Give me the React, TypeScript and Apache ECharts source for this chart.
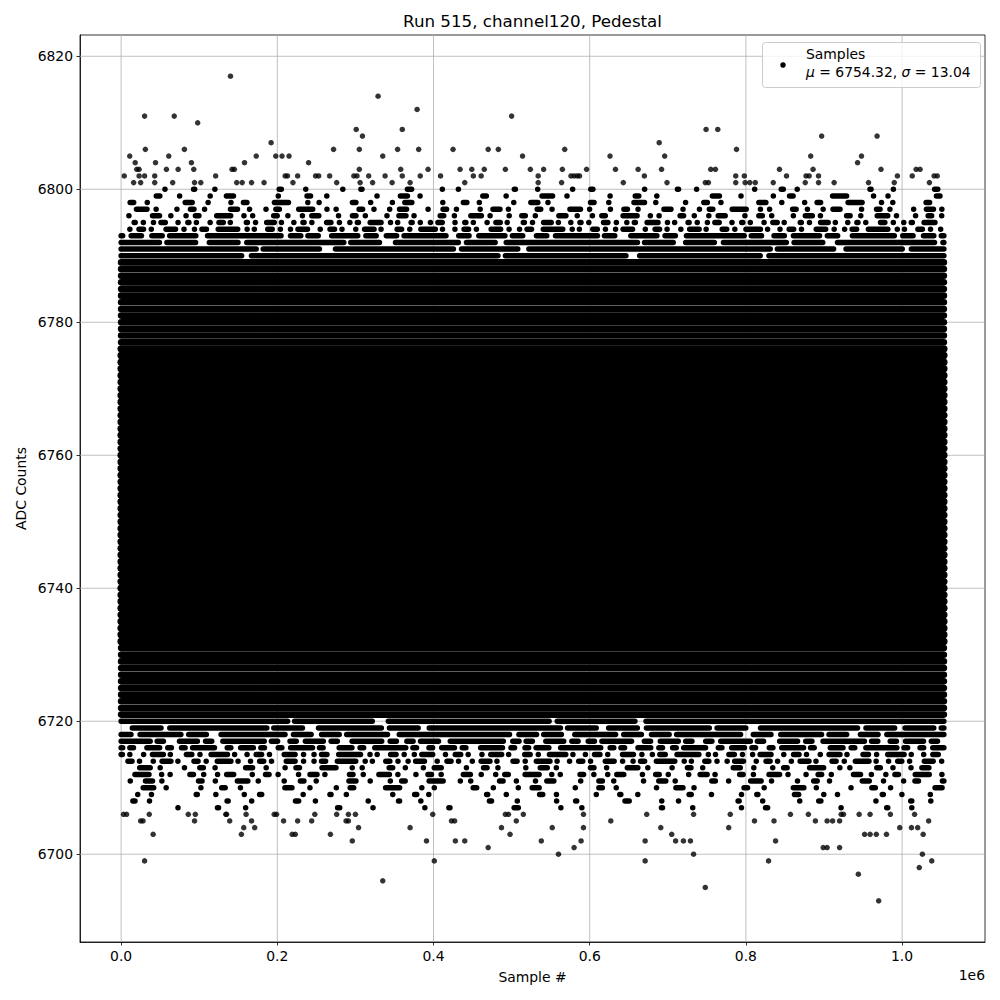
import React, { useEffect, useRef } from "react";
import * as echarts from "echarts";

// ---------- texts ----------
const TITLE = "Run 515, channel120, Pedestal";
const X_NAME = "Sample #";
const Y_NAME = "ADC Counts";
const X_OFFSET_TEXT = "1e6";
const LEGEND_NAME = "Samples";
const MU = "6754.32";
const SIGMA = "13.04";

// ---------- data extents ----------
const X_LAST = 1053500; // last sample index
const Y_DATA_MIN = 6693;
const Y_DATA_MAX = 6817;

// ---------- ticks ----------
const xTicks = [0, 200000, 400000, 600000, 800000, 1000000];
const yTicks = [6700, 6720, 6740, 6760, 6780, 6800, 6820];

// ---------- ADC levels fully populated over the whole run ----------
const coreLevels = [
  6732, 6733, 6734, 6735, 6736, 6737, 6738, 6739, 6740, 6741, 6742, 6743, 6744, 6745, 6746,
  6747, 6748, 6749, 6750, 6751, 6752, 6753, 6754, 6755, 6756, 6757, 6758, 6759, 6760, 6761,
  6762, 6763, 6764, 6765, 6766, 6767, 6768, 6769, 6770, 6771, 6772, 6773, 6774, 6775, 6776,
];
const fullLevels = [
  6721, 6722, 6723, 6724, 6725, 6726, 6727, 6728, 6729, 6730, 6731,
  6777, 6778, 6779, 6780, 6781, 6782, 6783, 6784, 6785, 6786, 6787, 6788, 6789,
];
// [level, fraction of the run covered by samples]
const upperFringe: [number, number][] = [
  [6790, 0.98], [6791, 0.96], [6792, 0.93], [6793, 0.86], [6794, 0.66], [6795, 0.56],
  [6796, 0.48], [6797, 0.45], [6798, 0.34], [6799, 0.25], [6800, 0.18],
];
const lowerFringe: [number, number][] = [
  [6720, 0.97], [6719, 0.93], [6718, 0.9], [6717, 0.82], [6716, 0.78], [6715, 0.68],
  [6714, 0.65], [6713, 0.4], [6712, 0.5], [6711, 0.38], [6710, 0.3], [6709, 0.22],
  [6708, 0.17], [6707, 0.13],
];

// ---------- individual sparse samples: [sample #, ADC counts] ----------
const upperOutliers: [number, number][] = [
  [140000, 6817], [329000, 6814], [379000, 6812],
  [30000, 6811], [68000, 6811], [500000, 6811], [98000, 6810],
  [301000, 6809], [360000, 6809], [749000, 6809], [764000, 6809],
  [309000, 6808], [897000, 6808], [968000, 6808], [192000, 6807], [689000, 6807],
  [31000, 6806], [81000, 6806], [272000, 6806], [305000, 6806], [354000, 6806], [381000, 6806],
  [425000, 6806], [470000, 6806], [483000, 6806], [568000, 6806], [788000, 6806],
  [11000, 6805], [61000, 6805], [173000, 6805], [198000, 6805], [206000, 6805], [215000, 6805],
  [335000, 6805], [514000, 6805], [626000, 6805], [696000, 6805], [883000, 6805], [948000, 6805],
  [18000, 6804], [44000, 6804], [90000, 6804], [158000, 6804], [240000, 6804], [943000, 6804],
  [20000, 6803], [23000, 6803], [58000, 6803], [73000, 6803], [93000, 6803], [142000, 6803],
  [145000, 6803], [305000, 6803], [358000, 6803], [393000, 6803], [434000, 6803], [449000, 6803],
  [465000, 6803], [492000, 6803], [524000, 6803], [541000, 6803], [565000, 6803], [596000, 6803],
  [633000, 6803], [662000, 6803], [692000, 6803], [755000, 6803], [761000, 6803], [843000, 6803],
  [886000, 6803], [973000, 6803], [1018000, 6803], [1023000, 6803],
  [4000, 6802], [23000, 6802], [30000, 6802], [43000, 6802], [121000, 6802], [210000, 6802],
  [213000, 6802], [226000, 6802], [249000, 6802], [253000, 6802], [267000, 6802], [298000, 6802],
  [302000, 6802], [317000, 6802], [338000, 6802], [360000, 6802], [383000, 6802], [409000, 6802],
  [451000, 6802], [461000, 6802], [534000, 6802], [576000, 6802], [580000, 6802], [584000, 6802],
  [587000, 6802], [670000, 6802], [787000, 6802], [798000, 6802], [852000, 6802], [877000, 6802],
  [881000, 6802], [893000, 6802], [994000, 6802], [1013000, 6802], [1041000, 6802], [1045000, 6802],
  [16000, 6801], [25000, 6801], [43000, 6801], [66000, 6801], [94000, 6801], [102000, 6801],
  [148000, 6801], [155000, 6801], [167000, 6801], [183000, 6801], [220000, 6801], [276000, 6801],
  [306000, 6801], [322000, 6801], [347000, 6801], [370000, 6801], [440000, 6801], [534000, 6801],
  [564000, 6801], [643000, 6801], [699000, 6801], [748000, 6801], [752000, 6801], [787000, 6801],
  [799000, 6801], [805000, 6801], [812000, 6801], [835000, 6801], [876000, 6801], [893000, 6801],
  [913000, 6801], [957000, 6801], [990000, 6801], [1035000, 6801],
];
const lowerOutliers: [number, number][] = [
  [3000, 6706], [7000, 6706], [36000, 6706], [86000, 6706], [95000, 6706], [134000, 6706],
  [135000, 6706], [160000, 6706], [196000, 6706], [199000, 6706], [248000, 6706], [276000, 6706],
  [291000, 6706], [300000, 6706], [399000, 6706], [492000, 6706], [496000, 6706], [515000, 6706],
  [592000, 6706], [673000, 6706], [733000, 6706], [780000, 6706], [857000, 6706], [880000, 6706],
  [922000, 6706], [925000, 6706], [945000, 6706], [959000, 6706], [985000, 6706], [1016000, 6706],
  [25000, 6705], [28000, 6705], [94000, 6705], [139000, 6705], [167000, 6705], [208000, 6705],
  [226000, 6705], [244000, 6705], [288000, 6705], [291000, 6705], [423000, 6705], [427000, 6705],
  [506000, 6705], [627000, 6705], [811000, 6705], [836000, 6705], [889000, 6705], [904000, 6705],
  [911000, 6705], [920000, 6705], [1034000, 6705],
  [157000, 6704], [171000, 6704], [304000, 6704], [370000, 6704], [487000, 6704], [552000, 6704],
  [592000, 6704], [691000, 6704], [778000, 6704], [997000, 6704], [1012000, 6704], [1020000, 6704],
  [41000, 6703], [154000, 6703], [219000, 6703], [223000, 6703], [268000, 6703], [498000, 6703],
  [705000, 6703], [952000, 6703], [959000, 6703], [967000, 6703], [980000, 6703], [1027000, 6703],
  [296000, 6702], [391000, 6702], [428000, 6702], [440000, 6702], [538000, 6702], [589000, 6702],
  [671000, 6702], [710000, 6702], [720000, 6702], [729000, 6702], [838000, 6702],
  [470000, 6701], [580000, 6701], [899000, 6701], [904000, 6701], [920000, 6701],
  [560000, 6700], [733000, 6700], [1026000, 6700],
  [30000, 6699], [401000, 6699], [671000, 6699], [829000, 6699], [1038000, 6699],
  [1022000, 6698], [944000, 6697], [335000, 6696], [748000, 6695], [970000, 6693],
];

// ---------- styles ----------
const FONT = "DejaVu Sans";
const DOT = 5.5;
const GRID_COLOR = "#b0b0b0";
// irregular run / gap shapes used to stipple partially-populated rows
const RUN_SHAPE = [1, 2, 1, 1, 3, 1, 2, 1, 4, 1, 1, 2, 1, 3, 1, 1, 2, 5, 1, 1, 2, 1, 1, 3];
const GAP_SHAPE = [1.3, 0.6, 2.5, 1.0, 0.4, 3.2, 0.8, 1.7, 0.5, 2.1, 1.1, 0.7, 2.8, 0.9, 1.5, 0.6, 1.9, 1.2, 0.5, 2.4, 0.8, 1.4, 0.6, 2.2];

const mean = (a: number[]) => a.reduce((s, v) => s + v, 0) / a.length;

function dashFor(c: number): number[] {
  const mR = mean(RUN_SHAPE);
  const mG = mean(GAP_SHAPE);
  let runs: number[];
  let whites: number[];
  if (c >= 0.55) {
    const Wm = 4.5;
    const B = (Wm * c) / (1 - c);
    runs = RUN_SHAPE.map((r) => Math.max(DOT, (r / mR) * B));
    whites = GAP_SHAPE.map((g) => Math.max(1.5, (g / mG) * Wm));
  } else {
    const k = c < 0.25 ? 0.3 : 1;
    runs = RUN_SHAPE.map((r) => DOT + (r - 1) * 3.5 * k);
    const B = mean(runs);
    const W = (B * (1 - c)) / c;
    whites = GAP_SHAPE.map((g) => (g / mG) * W);
  }
  const arr: number[] = [];
  runs.forEach((r, i) => {
    arr.push(Math.max(0.01, r - DOT), whites[i] + DOT);
  });
  return arr;
}

function rowSeries(data: number[][], width: number, dashed: boolean, z: number) {
  return {
    type: "custom",
    z,
    silent: true,
    encode: { x: 0, y: 1 },
    data,
    renderItem: (params: any, api: any) => {
      const level = api.value(1);
      const cov = api.value(2);
      const p0 = api.coord([0, level]);
      const p1 = api.coord([X_LAST, level]);
      const style: any = { stroke: "#000", lineWidth: width, lineCap: "round", fill: null };
      if (dashed) {
        style.lineDash = dashFor(cov);
        style.lineDashOffset = ((level * 53) % 97) * 7;
      }
      return {
        type: "line",
        shape: { x1: p0[0], y1: p0[1], x2: p1[0], y2: p1[1] },
        style,
      };
    },
  };
}

function gridSeries(dir: "x" | "y", ticks: number[]) {
  return {
    type: "custom",
    z: 1,
    silent: true,
    encode: { x: 0, y: 1 },
    data: ticks.map((t) => (dir === "x" ? [t, 6750] : [0, t])),
    renderItem: (params: any, api: any) => {
      const cs = params.coordSys;
      const p = api.coord([api.value(0), api.value(1)]);
      const shape =
        dir === "x"
          ? { x1: p[0], y1: cs.y, x2: p[0], y2: cs.y + cs.height }
          : { x1: cs.x, y1: p[1], x2: cs.x + cs.width, y2: p[1] };
      return { type: "line", shape, style: { stroke: GRID_COLOR, lineWidth: 0.8 } };
    },
  };
}

export default function App() {
  const ref = useRef<HTMLDivElement>(null);

  useEffect(() => {
    if (!ref.current) return;
    const chart = echarts.init(ref.current, undefined, { renderer: "svg" });

    const xPad = 0.05 * X_LAST;
    const yPad = 0.05 * (Y_DATA_MAX - Y_DATA_MIN);

    const axisCommon = {
      axisLine: { show: true, onZero: false, lineStyle: { color: "#000", width: 0.8 } },
      axisTick: { show: true, inside: false, length: 3.5, lineStyle: { color: "#000", width: 0.8 } },
      splitLine: { show: false },
    };

    const option: any = {
      animation: false,
      backgroundColor: "#fff",
      grid: {
        left: 80,
        right: 15,
        top: 35,
        bottom: 58,
        show: true,
        borderColor: "#000",
        borderWidth: 0.8,
        backgroundColor: "transparent",
        containLabel: false,
      },
      xAxis: {
        type: "value",
        min: -xPad,
        max: X_LAST + xPad,
        ...axisCommon,
        axisTick: { ...axisCommon.axisTick, customValues: xTicks },
        axisLabel: {
          customValues: xTicks,
          formatter: (v: number) => (v / 1e6).toFixed(1),
          color: "#000",
          fontFamily: FONT,
          fontSize: 13.9,
          margin: 7,
        },
      },
      yAxis: {
        type: "value",
        min: Y_DATA_MIN - yPad,
        max: Y_DATA_MAX + yPad,
        ...axisCommon,
        axisTick: { ...axisCommon.axisTick, customValues: yTicks },
        axisLabel: {
          customValues: yTicks,
          formatter: (v: number) => String(v),
          color: "#000",
          fontFamily: FONT,
          fontSize: 13.9,
          margin: 7,
        },
      },
      series: [
        gridSeries("x", xTicks),
        gridSeries("y", yTicks),
        rowSeries(coreLevels.map((l) => [0, l, 1]), 7.4, false, 3),
        rowSeries(fullLevels.map((l) => [0, l, 1]), 6.6, false, 3),
        rowSeries([...upperFringe, ...lowerFringe].map(([l, c]) => [0, l, c]), DOT, true, 3),
        {
          type: "scatter",
          z: 4,
          silent: true,
          symbol: "circle",
          symbolSize: DOT,
          itemStyle: { color: "#000" },
          data: [...upperOutliers, ...lowerOutliers],
        },
      ],
      graphic: [
        {
          type: "text",
          x: 532.5,
          y: 21,
          style: { text: TITLE, font: `16.7px "${FONT}"`, fill: "#000", textAlign: "center", textVerticalAlign: "middle" },
        },
        {
          type: "text",
          x: 532.5,
          y: 977,
          style: { text: X_NAME, font: `13.9px "${FONT}"`, fill: "#000", textAlign: "center", textVerticalAlign: "middle" },
        },
        {
          type: "text",
          x: 985,
          y: 975,
          style: { text: X_OFFSET_TEXT, font: `13.9px "${FONT}"`, fill: "#000", textAlign: "right", textVerticalAlign: "middle" },
        },
        {
          type: "text",
          x: 21,
          y: 488.5,
          rotation: Math.PI / 2,
          style: { text: Y_NAME, font: `13.9px "${FONT}"`, fill: "#000", textAlign: "center", textVerticalAlign: "middle" },
        },
        {
          type: "group",
          z: 100,
          children: [
            {
              type: "rect",
              shape: { x: 762.5, y: 42.5, width: 218, height: 45, r: 3 },
              style: { fill: "rgba(255,255,255,0.8)", stroke: "#cccccc", lineWidth: 1 },
              z: 100,
            },
            {
              type: "circle",
              shape: { cx: 783, cy: 65, r: DOT / 2 },
              style: { fill: "#000" },
              z: 101,
            },
            {
              type: "text",
              x: 806,
              y: 54,
              z: 101,
              style: { text: LEGEND_NAME, font: `13.9px "${FONT}"`, fill: "#000", textVerticalAlign: "middle" },
            },
            {
              type: "text",
              x: 806,
              y: 72,
              z: 101,
              style: {
                text: `{i|μ} = ${MU}, {i|σ} = ${SIGMA}`,
                font: `13.9px "${FONT}"`,
                fill: "#000",
                textVerticalAlign: "middle",
                rich: {
                  i: { fontStyle: "italic", fontFamily: FONT, fontSize: 13.9, fill: "#000" },
                },
              },
            },
          ],
        },
      ],
    };

    chart.setOption(option);
    return () => {
      chart.dispose();
    };
  }, []);

  return (
    <div
      ref={ref}
      style={{ position: "absolute", left: 0, top: 0, width: 1000, height: 1000, background: "#fff" }}
    />
  );
}
